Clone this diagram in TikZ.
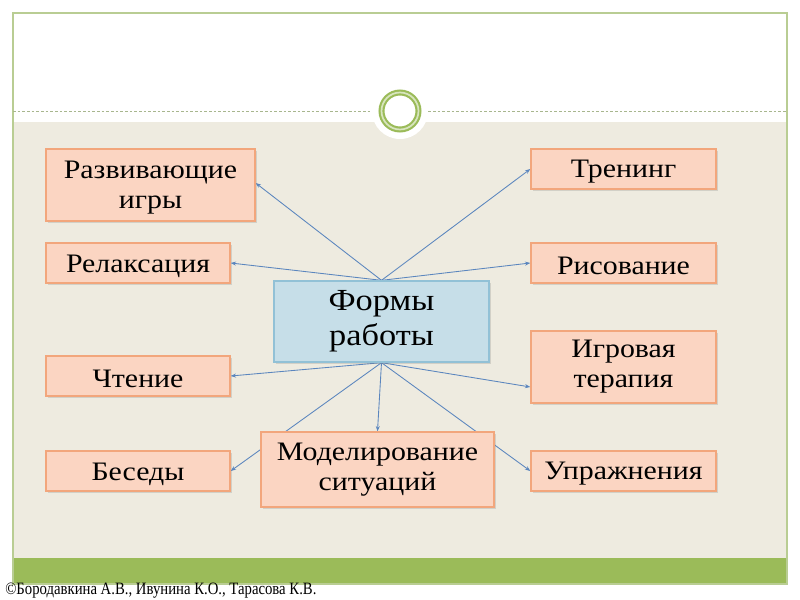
\documentclass[tikz,border=0pt]{standalone}
\usepackage{fontspec}
\setmainfont{Liberation Serif}[FakeStretch=1.12]
\newfontfamily\footfont{Liberation Serif}[FakeStretch=0.85]
\usetikzlibrary{arrows.meta,shadows}
\definecolor{beige}{HTML}{EEEBE0}
\definecolor{greenbar}{HTML}{9BBB59}
\definecolor{framecol}{HTML}{B9CD93}
\definecolor{dashcol}{HTML}{A8B68E}
\definecolor{ringlight}{HTML}{D8E5BF}
\definecolor{boxfill}{HTML}{FBD5C2}
\definecolor{boxline}{HTML}{F2A67C}
\definecolor{mainfill}{HTML}{C6DEE8}
\definecolor{mainline}{HTML}{92C1D6}
\definecolor{arrowcol}{HTML}{5B86BE}
\pgfdeclarelayer{bg}
\pgfdeclarelayer{lines}
\pgfsetlayers{bg,lines,main}
\newcommand\topstrut{\rule{0pt}{17.5pt}}
\tikzset{
  box/.style={draw=boxline, fill=boxfill, line width=1pt, align=center,
    font=\fontsize{20}{22.5}\selectfont, inner sep=2pt,
    drop shadow={shadow xshift=1.5pt, shadow yshift=-1.5pt, opacity=0.25}},
  mainbox/.style={box, draw=mainline, fill=mainfill, font=\fontsize{23}{26}\selectfont},
  conn/.style={draw=arrowcol, line width=0.65pt, -{Stealth[length=4pt,width=3pt]}}
}
\begin{document}
\begin{tikzpicture}[x=0.75pt,y=-0.75pt]
\useasboundingbox (0,0) rectangle (800,600);
\begin{pgfonlayer}{bg}
\fill[white] (0,0) rectangle (800,600);
\fill[beige] (13,122) rectangle (787,558);
\fill[greenbar] (13,558) rectangle (787,584);
\draw[framecol, line width=1pt] (13,13) rectangle (787,584);
\draw[dashcol, dash pattern=on 2pt off 1.5pt, line width=0.6pt] (13,111) -- (787,111);
\fill[white] (400,111) circle (28);
\draw[greenbar, line width=4.5pt] (400,111) circle (18.5);
\draw[ringlight, line width=1.3pt] (400,111) circle (18.5);
\end{pgfonlayer}

\node[box, minimum width=209*0.75pt, minimum height=72*0.75pt] (dev) at (150.5,185) {\topstrut Развивающие\\игры};
\node[box, minimum width=184*0.75pt, minimum height=40*0.75pt] (rel) at (138,263) {\topstrut Релаксация};
\node[box, minimum width=184*0.75pt, minimum height=40*0.75pt] (read) at (138,376) {\topstrut Чтение};
\node[box, minimum width=184*0.75pt, minimum height=40*0.75pt] (talk) at (138,471) {\topstrut Беседы};
\node[box, minimum width=185*0.75pt, minimum height=40*0.75pt] (train) at (623.5,169) {\topstrut Тренинг};
\node[box, minimum width=185*0.75pt, minimum height=40*0.75pt] (paint) at (623.5,263) {\topstrut Рисование};
\node[box, minimum width=185*0.75pt, minimum height=72*0.75pt] (game) at (623.5,367) {Игровая\\терапия};
\node[box, minimum width=185*0.75pt, minimum height=40*0.75pt] (exer) at (623.5,471) {\topstrut Упражнения};
\node[mainbox, minimum width=215*0.75pt, minimum height=81*0.75pt] (main) at (381.5,321.5) {Формы\\работы};
\node[box, minimum width=233*0.75pt, minimum height=75*0.75pt] (model) at (377.5,469.5) {Моделирование\\ситуаций};

\begin{pgfonlayer}{lines}
\draw[conn] (main.north) -- ([yshift=1.5pt]dev.east);
\draw[conn] (main.north) -- (rel.east);
\draw[conn] (main.north) -- (train.west);
\draw[conn] (main.north) -- (paint.west);
\draw[conn] (main.south) -- (read.east);
\draw[conn] (main.south) -- ([yshift=-15pt]game.west);
\draw[conn] (main.south) -- (model.north);
\draw[conn] (main.south) -- (talk.east);
\draw[conn] (main.south) -- (exer.west);
\end{pgfonlayer}

\node[anchor=base west, inner sep=0pt, font=\footfont\fontsize{13}{14}\selectfont] (foot) at (5,594) {©Бородавкина А.В., Ивунина К.О., Тарасова К.В.};
\end{tikzpicture}
\end{document}
